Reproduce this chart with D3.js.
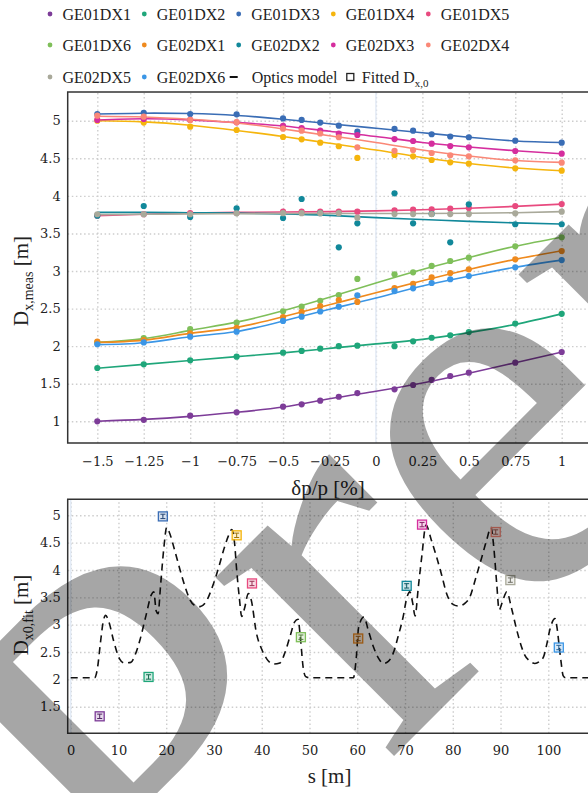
<!DOCTYPE html>
<html>
<head>
<meta charset="utf-8">
<script src="https://cdn.jsdelivr.net/npm/d3@7"></script>
<style>
  body { margin: 0; background: #fff; }
  svg text { font-family: "Liberation Serif", serif; fill: #222; }
  .tick text { font-family: "DejaVu Serif", serif; font-size: 13px; }
  .grid line { stroke: #cdcdcd; stroke-width: 1.4; stroke-dasharray: 1.5, 2.6; }
  .grid path { display: none; }
  .frame { fill: none; stroke: #333; stroke-width: 1.5; }
</style>
</head>
<body>
<div id="chart"></div>
<script>

var names = ['GE01DX1', 'GE01DX2', 'GE01DX3', 'GE01DX4', 'GE01DX5', 'GE01DX6',
             'GE02DX1', 'GE02DX2', 'GE02DX3', 'GE02DX4', 'GE02DX5', 'GE02DX6'];
var colors = ['#7d3c98', '#1fa67a', '#3a6db5', '#f5b50d', '#e84a7f', '#7fbf5a',
              '#ef8a1e', '#11889a', '#d52e9e', '#fa8877', '#a9a99a', '#3b96e6'];

// measured dispersion vs momentum offset
var dpp = [-1.5, -1.25, -1, -0.75, -0.5, -0.4, -0.3, -0.2, -0.1, 0.1, 0.2, 0.3, 0.4, 0.5, 0.75, 1];
var measGE01DX1 = [1.00, 1.02, 1.075, 1.12, 1.195, 1.226, 1.274, 1.327, 1.376, 1.426, 1.483, 1.55, 1.603, 1.647, 1.78, 1.922];
var measGE01DX2 = [1.709, 1.758, 1.811, 1.86, 1.913, 1.936, 1.966, 2.0, 2.006, 2.0, 2.064, 2.112, 2.144, 2.188, 2.3, 2.43];
var measGE01DX3 = [5.089, 5.106, 5.089, 5.085, 5.03, 5.01, 4.975, 4.934, 4.854, 4.89, 4.867, 4.82, 4.79, 4.78, 4.734, 4.707];
var measGE01DX4 = [5.0, 4.975, 4.92, 4.876, 4.783, 4.752, 4.707, 4.66, 4.504, 4.544, 4.526, 4.477, 4.446, 4.428, 4.366, 4.335];
var measGE01DX5 = [3.736, 3.755, 3.772, 3.772, 3.79, 3.79, 3.79, 3.79, 3.79, 3.808, 3.816, 3.82, 3.83, 3.838, 3.865, 3.891];
var measGE01DX6 = [2.05, 2.108, 2.228, 2.312, 2.463, 2.525, 2.603, 2.68, 2.894, 2.956, 2.982, 3.067, 3.133, 3.177, 3.329, 3.448];
var measGE02DX1 = [2.06, 2.082, 2.17, 2.245, 2.388, 2.455, 2.534, 2.614, 2.588, 2.774, 2.83, 2.915, 2.973, 3.022, 3.155, 3.266];
var measGE02DX2 = [3.736, 3.865, 3.719, 3.834, 3.705, 3.958, 3.77, 3.315, 3.635, 4.033, 3.635, 3.76, 3.382, 3.887, 3.622, 3.622];
var measGE02DX3 = [5.01, 5.023, 5.01, 4.978, 4.93, 4.903, 4.867, 4.827, 4.81, 4.756, 4.73, 4.694, 4.663, 4.646, 4.597, 4.561];
var measGE02DX4 = [5.067, 5.053, 5.01, 4.98, 4.894, 4.867, 4.83, 4.78, 4.646, 4.60, 4.61, 4.57, 4.54, 4.526, 4.473, 4.441];
var measGE02DX5 = [3.755, 3.755, 3.755, 3.768, 3.77, 3.77, 3.77, 3.77, 3.71, 3.758, 3.758, 3.758, 3.758, 3.76, 3.768, 3.79];
var measGE02DX6 = [2.025, 2.05, 2.126, 2.193, 2.335, 2.392, 2.461, 2.525, 2.676, 2.733, 2.77, 2.84, 2.89, 2.933, 3.049, 3.146];

// fitted curves, read at a coarser grid
var fitDpp = [-1.5, -1.25, -1, -0.75, -0.5, -0.25, 0, 0.25, 0.5, 0.75, 1];
var fitGE01DX1 = [1.0, 1.025, 1.065, 1.12, 1.19, 1.30, 1.40, 1.51, 1.64, 1.78, 1.92];
var fitGE01DX2 = [1.705, 1.758, 1.81, 1.86, 1.91, 1.97, 2.03, 2.09, 2.18, 2.29, 2.43];
var fitGE01DX3 = [5.09, 5.10, 5.095, 5.07, 5.02, 4.96, 4.90, 4.84, 4.78, 4.73, 4.71];
var fitGE01DX4 = [5.0, 4.985, 4.94, 4.87, 4.79, 4.70, 4.61, 4.51, 4.43, 4.37, 4.335];
var fitGE01DX5 = [3.735, 3.755, 3.77, 3.78, 3.785, 3.79, 3.80, 3.815, 3.835, 3.86, 3.89];
var fitGE01DX6 = [2.05, 2.10, 2.21, 2.32, 2.47, 2.65, 2.84, 3.02, 3.18, 3.33, 3.45];
var fitGE02DX1 = [2.05, 2.08, 2.17, 2.25, 2.39, 2.55, 2.71, 2.87, 3.02, 3.155, 3.27];
var fitGE02DX2 = [3.78, 3.78, 3.775, 3.77, 3.76, 3.74, 3.71, 3.685, 3.66, 3.64, 3.625];
var fitGE02DX3 = [5.01, 5.025, 5.01, 4.975, 4.93, 4.86, 4.79, 4.71, 4.65, 4.60, 4.56];
var fitGE02DX4 = [5.06, 5.05, 5.02, 4.97, 4.89, 4.80, 4.71, 4.61, 4.53, 4.47, 4.445];
var fitGE02DX5 = [3.75, 3.755, 3.76, 3.762, 3.765, 3.765, 3.765, 3.765, 3.768, 3.775, 3.79];
var fitGE02DX6 = [2.02, 2.045, 2.125, 2.195, 2.335, 2.49, 2.64, 2.80, 2.93, 3.05, 3.145];

// fitted D_x0 at each monitor
var monS = [6.07, 16.3, 19.3, 34.75, 37.96, 48.2, 60.2, 70.35, 73.56, 88.99, 92.05, 102.2];
var monD0 = [1.324, 2.044, 4.98, 4.634, 3.754, 2.771, 2.747, 3.71, 4.83, 4.694, 3.815, 2.582];
var monErr = [0.04, 0.04, 0.04, 0.04, 0.04, 0.04, 0.04, 0.04, 0.04, 0.04, 0.04, 0.04];

// optics model dispersion along s
var opticsS = [0, 5.0, 5.6, 6.2, 6.8, 7.3, 8.0, 9.0, 10.2, 11.2, 12.6, 13.5, 14.5, 15.8, 16.9, 17.4, 17.9, 18.3, 18.8,
  19.5, 20.1, 20.6, 21.8, 22.9, 24.0, 25.0, 26.0, 27.1, 28.2, 29.9, 31.0, 32.0, 33.0, 33.7, 34.3, 34.75, 35.3, 35.8,
  36.4, 37.2, 37.8, 38.9, 40.0, 41.0, 42.4, 43.8, 44.9, 45.9, 46.9, 47.6, 48.1, 48.7, 49.2, 50.0, 59.2, 59.8, 60.3,
  61.4, 62.3, 63.4, 64.5, 65.5, 66.5, 67.5, 68.6, 69.6, 70.4, 71.0, 71.6, 72.1, 72.8, 73.5, 74.4, 75.5, 76.6, 77.7,
  78.7, 79.9, 81.2, 82.4, 83.6, 84.8, 86.1, 87.1, 88.0, 88.6, 89.2, 89.7, 90.5, 91.3, 92.3, 93.4, 94.3, 95.1, 96.2,
  97.2, 98.2, 99.0, 99.7, 100.3, 101.4, 101.9, 102.3, 102.7, 103.1, 103.6, 110];
var opticsD = [2.03, 2.03, 2.2, 2.65, 3.05, 3.17, 3.05, 2.7, 2.38, 2.30, 2.31, 2.45, 2.72, 3.18, 3.55, 3.6, 3.25, 3.2, 3.7,
  4.4, 4.78, 4.7, 4.35, 4.0, 3.68, 3.45, 3.35, 3.33, 3.4, 3.75, 4.05, 4.36, 4.62, 4.74, 4.5, 4.0, 3.5, 3.15,
  3.3, 3.57, 3.45, 2.84, 2.55, 2.38, 2.28, 2.3, 2.5, 2.78, 3.05, 3.1, 2.75, 2.2, 2.05, 2.03, 2.03, 2.4, 2.96,
  3.14, 2.9, 2.59, 2.38, 2.29, 2.33, 2.47, 2.8, 3.14, 3.5, 3.6, 3.4, 3.16, 3.7, 4.24, 4.82, 4.55, 4.24, 3.9,
  3.57, 3.38, 3.34, 3.38, 3.51, 3.85, 4.24, 4.55, 4.78, 4.4, 3.75, 3.27, 3.45, 3.6, 3.3, 2.9, 2.62, 2.44, 2.33,
  2.29, 2.33, 2.41, 2.65, 2.9, 3.11, 2.9, 2.59, 2.3, 2.07, 2.03, 2.03];

var topTicksX = [-1.5, -1.25, -1, -0.75, -0.5, -0.25, 0, 0.25, 0.5, 0.75, 1];
var topTicksY = [1, 1.5, 2, 2.5, 3, 3.5, 4, 4.5, 5];
var botTicksX = [0, 10, 20, 30, 40, 50, 60, 70, 80, 90, 100];
var botTicksY = [1.5, 2, 2.5, 3, 3.5, 4, 4.5, 5];

var measSets = [measGE01DX1, measGE01DX2, measGE01DX3, measGE01DX4, measGE01DX5, measGE01DX6,
                measGE02DX1, measGE02DX2, measGE02DX3, measGE02DX4, measGE02DX5, measGE02DX6];
var fitSets = [fitGE01DX1, fitGE01DX2, fitGE01DX3, fitGE01DX4, fitGE01DX5, fitGE01DX6,
               fitGE02DX1, fitGE02DX2, fitGE02DX3, fitGE02DX4, fitGE02DX5, fitGE02DX6];

var width = 588, height = 793;
var upper = {left: 67.7, top: 92, bottom: 443, right: 620};
var lower = {left: 67.7, top: 499.3, bottom: 733.3, right: 620};

var svg = d3.select('#chart').append('svg')
    .attr('width', width)
    .attr('height', height);

var fmt = d3.format('');

// ---------- top panel ----------
var xTop = d3.scaleLinear().domain([-1.5, 1]).range([97.3, 561.7]);
var yTop = d3.scaleLinear().domain([1, 5]).range([421.3, 120.7]);

svg.append('g').classed('grid', true)
    .attr('transform', 'translate(0,' + upper.bottom + ')')
    .call(d3.axisBottom(xTop).tickValues(topTicksX).tickSize(-(upper.bottom - upper.top)).tickFormat(''));
svg.append('g').classed('grid', true)
    .attr('transform', 'translate(' + upper.left + ',0)')
    .call(d3.axisLeft(yTop).tickValues(topTicksY).tickSize(-(upper.right - upper.left)).tickFormat(''));

svg.append('line')
    .attr('x1', xTop(0)).attr('x2', xTop(0))
    .attr('y1', upper.top).attr('y2', upper.bottom)
    .style('stroke', '#e3ebf6').style('stroke-width', 1.5);

var fitLine = d3.line()
    .x(function(d) { return xTop(d[0]); })
    .y(function(d) { return yTop(d[1]); })
    .curve(d3.curveNatural);

names.forEach(function(name, i) {
    svg.append('path')
        .datum(fitDpp.map(function(x, j) { return [x, fitSets[i][j]]; }))
        .attr('d', fitLine)
        .style('fill', 'none')
        .style('stroke', colors[i])
        .style('stroke-width', 1.6);
});

names.forEach(function(name, i) {
    svg.append('g').selectAll('circle')
        .data(dpp.map(function(x, j) { return [x, measSets[i][j]]; }))
        .enter()
        .append('circle')
        .attr('cx', function(d) { return xTop(d[0]); })
        .attr('cy', function(d) { return yTop(d[1]); })
        .attr('r', 3.1)
        .style('fill', colors[i]);
});

svg.append('g')
    .attr('transform', 'translate(0,' + upper.bottom + ')')
    .call(d3.axisBottom(xTop).tickValues(topTicksX).tickSize(0).tickPadding(14).tickFormat(fmt))
    .call(function(g) { g.select('.domain').remove(); });
svg.append('g')
    .attr('transform', 'translate(' + upper.left + ',0)')
    .call(d3.axisLeft(yTop).tickValues(topTicksY).tickSize(0).tickPadding(7).tickFormat(fmt))
    .call(function(g) { g.select('.domain').remove(); });

svg.append('path').classed('frame', true)
    .attr('d', 'M' + upper.right + ',' + upper.top + 'H' + upper.left + 'V' + upper.bottom + 'H' + upper.right);

// ---------- bottom panel ----------
var xBot = d3.scaleLinear().domain([0, 100]).range([70.7, 548.3]);
var yBot = d3.scaleLinear().domain([1.5, 5]).range([706.7, 515.3]);

svg.append('g').classed('grid', true)
    .attr('transform', 'translate(0,' + lower.bottom + ')')
    .call(d3.axisBottom(xBot).tickValues(botTicksX).tickSize(-(lower.bottom - lower.top)).tickFormat(''));
svg.append('g').classed('grid', true)
    .attr('transform', 'translate(' + lower.left + ',0)')
    .call(d3.axisLeft(yBot).tickValues(botTicksY).tickSize(-(lower.right - lower.left)).tickFormat(''));

svg.append('line')
    .attr('x1', xBot(0)).attr('x2', xBot(0))
    .attr('y1', lower.top).attr('y2', lower.bottom)
    .style('stroke', '#e3ebf6').style('stroke-width', 1.5);

svg.append('path')
    .datum(opticsS.map(function(s, j) { return [s, opticsD[j]]; }))
    .attr('d', d3.line()
        .x(function(d) { return xBot(d[0]); })
        .y(function(d) { return yBot(d[1]); })
        .curve(d3.curveMonotoneX))
    .style('fill', 'none')
    .style('stroke', '#111')
    .style('stroke-width', 1.6)
    .style('stroke-dasharray', '7,5');

var markers = svg.append('g').selectAll('g')
    .data(monS.map(function(s, j) { return {s: s, d: monD0[j], e: monErr[j], c: colors[j]}; }))
    .enter()
    .append('g')
    .attr('transform', function(d) { return 'translate(' + xBot(d.s) + ',' + yBot(d.d) + ')'; });

markers.append('rect')
    .attr('x', -4.5).attr('y', -4.5)
    .attr('width', 9).attr('height', 9)
    .style('fill', function(d) { return d.c; })
    .style('fill-opacity', 0.2)
    .style('stroke', function(d) { return d.c; })
    .style('stroke-width', 1.3);

markers.append('path')
    .attr('d', function(d) {
        var h = yBot(d.d - d.e) - yBot(d.d);
        return 'M0,' + (-h) + 'V' + h + 'M-2.5,' + (-h) + 'H2.5M-2.5,' + h + 'H2.5';
    })
    .style('fill', 'none')
    .style('stroke', function(d) { return d3.color(d.c).darker(1.2); })
    .style('stroke-width', 1);

svg.append('g')
    .attr('transform', 'translate(0,' + lower.bottom + ')')
    .call(d3.axisBottom(xBot).tickValues(botTicksX).tickSize(0).tickPadding(12).tickFormat(fmt))
    .call(function(g) { g.select('.domain').remove(); });
svg.append('g')
    .attr('transform', 'translate(' + lower.left + ',0)')
    .call(d3.axisLeft(yBot).tickValues(botTicksY).tickSize(0).tickPadding(7).tickFormat(fmt))
    .call(function(g) { g.select('.domain').remove(); });

svg.append('path').classed('frame', true)
    .attr('d', 'M' + lower.right + ',' + lower.top + 'H' + lower.left + 'V' + lower.bottom + 'H' + lower.right);

// ---------- axis labels ----------
function subLabel(g, main, sub, tail) {
    var t = g.append('text').style('font-size', '21px');
    t.append('tspan').text(main);
    t.append('tspan').attr('dy', 5).style('font-size', '14px').text(sub);
    t.append('tspan').attr('dy', -5).text(tail);
    return t;
}

subLabel(svg.append('g').attr('transform', 'translate(28,281) rotate(-90)'), 'D', 'x,meas', ' [m]')
    .attr('text-anchor', 'middle');
subLabel(svg.append('g').attr('transform', 'translate(28,615) rotate(-90)'), 'D', 'x0,fit', ' [m]')
    .attr('text-anchor', 'middle');

svg.append('text')
    .attr('x', 328).attr('y', 495)
    .attr('text-anchor', 'middle')
    .style('font-size', '21px')
    .text('\u03b4p/p [%]');
svg.append('text')
    .attr('x', 329.5).attr('y', 783)
    .attr('text-anchor', 'middle')
    .style('font-size', '21px')
    .text('s [m]');

// ---------- legend ----------
var colX = [50, 144.3, 238.7, 333.3, 428.3];
var rowY = [14, 45, 77];

names.forEach(function(name, i) {
    var cx = colX[i % 5], cy = rowY[Math.floor(i / 5)];
    svg.append('circle').attr('cx', cx).attr('cy', cy).attr('r', 2.4).style('fill', colors[i]);
    svg.append('text').attr('x', cx + 12.5).attr('y', cy + 5.5).style('font-size', '16px').text(name);
});

svg.append('line')
    .attr('x1', colX[2] - 9).attr('x2', colX[2] - 1)
    .attr('y1', rowY[2]).attr('y2', rowY[2])
    .style('stroke', '#111').style('stroke-width', 2);
svg.append('text').attr('x', colX[2] + 13).attr('y', rowY[2] + 5.5).style('font-size', '16px').text('Optics model');

svg.append('rect')
    .attr('x', colX[3] + 13.5).attr('y', rowY[2] - 3.5)
    .attr('width', 7).attr('height', 7)
    .style('fill', 'none').style('stroke', '#222').style('stroke-width', 1.3);
var ft = svg.append('text').attr('x', colX[3] + 28.5).attr('y', rowY[2] + 5.5).style('font-size', '16px');
ft.append('tspan').text('Fitted D');
ft.append('tspan').attr('dy', 4).style('font-size', '11px').text('x,0');

// ---------- watermark ----------
svg.append('text')
    .attr('transform', 'translate(170,980) rotate(-45)')
    .style('font-size', '550px')
    .style('fill', '#000')
    .style('fill-opacity', 0.35)
    .text('Preprint');

</script>
</body>
</html>
